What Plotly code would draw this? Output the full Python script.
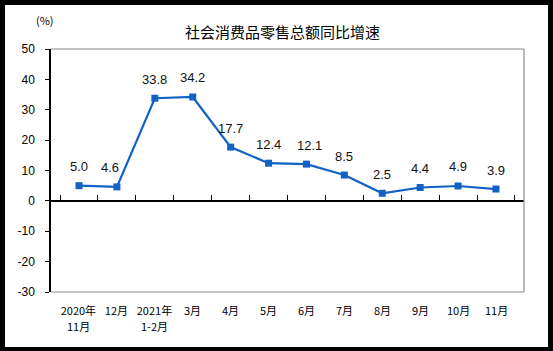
import plotly.graph_objects as go

categories = ["2020年11月", "12月", "2021年1-2月", "3月", "4月", "5月",
              "6月", "7月", "8月", "9月", "10月", "11月"]
tick_row1 = ["2020年", "12月", "2021年", "3月", "4月", "5月",
             "6月", "7月", "8月", "9月", "10月", "11月"]
tick_row2 = ["11月", "", "1-2月", "", "", "", "", "", "", "", "", ""]
values = [5.0, 4.6, 33.8, 34.2, 17.7, 12.4, 12.1, 8.5, 2.5, 4.4, 4.9, 3.9]
labels = ["5.0", "4.6", "33.8", "34.2", "17.7", "12.4", "12.1", "8.5", "2.5", "4.4", "4.9", "3.9"]
y_tickvals = [-30, -20, -10, 0, 10, 20, 30, 40, 50]
y_ticktext = ["-30", "-20", "-10", "0", "10", "20", "30", "40", "50"]
title_text = "社会消费品零售总额同比增速"
unit_text = "(%)"

W, H = 553, 351
ML, MR, MT, MB = 51, 29, 49, 59
PW, PH = W - ML - MR, H - MT - MB

def px_x(p):
    return (p - ML) / PW

def px_y(p):
    return (H - MB - p) / PH

BLUE = "#1062C4"
CJK = "Noto Sans CJK SC, sans-serif"
NUM = "Liberation Sans, Arial, sans-serif"
label_xshift = {"4.6": -7, "12.1": 3}

fig = go.Figure()
fig.add_trace(go.Scatter(
    x=categories, y=values, mode="lines+markers",
    line=dict(color=BLUE, width=2.2),
    marker=dict(symbol="square", size=7, color=BLUE),
    xaxis="x2", yaxis="y", hoverinfo="skip", showlegend=False,
))
fig.add_trace(go.Scatter(
    x=categories, y=values, mode="markers", marker=dict(opacity=0),
    xaxis="x", yaxis="y", hoverinfo="skip", showlegend=False,
))

for c, v, t in zip(categories, values, labels):
    fig.add_annotation(x=c, y=v, xref="x2", yref="y", text=t, showarrow=False,
                       yshift=19, xshift=label_xshift.get(t, 0),
                       font=dict(family=NUM, size=13, color="#111"))

for c, t in zip(categories, tick_row2):
    if t:
        fig.add_annotation(x=c, y=px_y(326), xref="x", yref="paper", text=t, showarrow=False,
                           yanchor="middle", font=dict(family=CJK, size=11, color="#000"))

fig.add_annotation(x=px_x(282), y=px_y(32), xref="paper", yref="paper", text=title_text,
                   showarrow=False, font=dict(family=CJK, size=15, color="#000"),
                   xanchor="center", yanchor="middle")
fig.add_annotation(x=px_x(45), y=px_y(20), xref="paper", yref="paper", text=unit_text,
                   showarrow=False, font=dict(family=CJK, size=11, color="#000"),
                   xanchor="center", yanchor="middle")

shapes = []
for (x0, y0, x1, y1) in [(0, 1, 1, 1), (1, 0, 1, 1), (0, 0, 1, 0)]:
    shapes.append(dict(type="line", xref="paper", yref="paper", x0=x0, y0=y0, x1=x1, y1=y1,
                       line=dict(color="#8c8c8c", width=1.2)))
for (a, b, c, d) in [(0, 0, 5, H), (548, 0, W, H), (0, 0, W, 5), (0, 347, W, H)]:
    shapes.append(dict(type="rect", xref="paper", yref="paper",
                       x0=px_x(a), x1=px_x(c), y0=px_y(d), y1=px_y(b),
                       fillcolor="black", line=dict(width=0)))

fig.update_layout(
    width=W, height=H, margin=dict(l=ML, r=MR, t=MT, b=MB),
    paper_bgcolor="white", plot_bgcolor="white",
    shapes=shapes,
    xaxis=dict(type="category", categoryarray=categories, categoryorder="array",
               tickmode="array", tickvals=categories, ticktext=tick_row1,
               showline=False, showgrid=False, zeroline=False, ticks="",
               ticklabelstandoff=11,
               tickfont=dict(family=CJK, size=11, color="#000"), fixedrange=True),
    xaxis2=dict(type="category", categoryarray=categories, categoryorder="array",
                overlaying="x", anchor="free", position=30 / 80, side="bottom",
                showline=True, linecolor="black", linewidth=1.5,
                ticks="inside", tickson="boundaries", ticklen=5, tickcolor="black",
                showticklabels=False, showgrid=False, zeroline=False),
    yaxis=dict(range=[-30, 50], tickmode="array", tickvals=y_tickvals, ticktext=y_ticktext,
               showgrid=False, zeroline=False,
               showline=True, linecolor="black", linewidth=1.5,
               ticks="outside", ticklen=4, tickcolor="black", ticklabelstandoff=8,
               tickfont=dict(family=NUM, size=12, color="#000")),
)

fig.write_html("out.html")
